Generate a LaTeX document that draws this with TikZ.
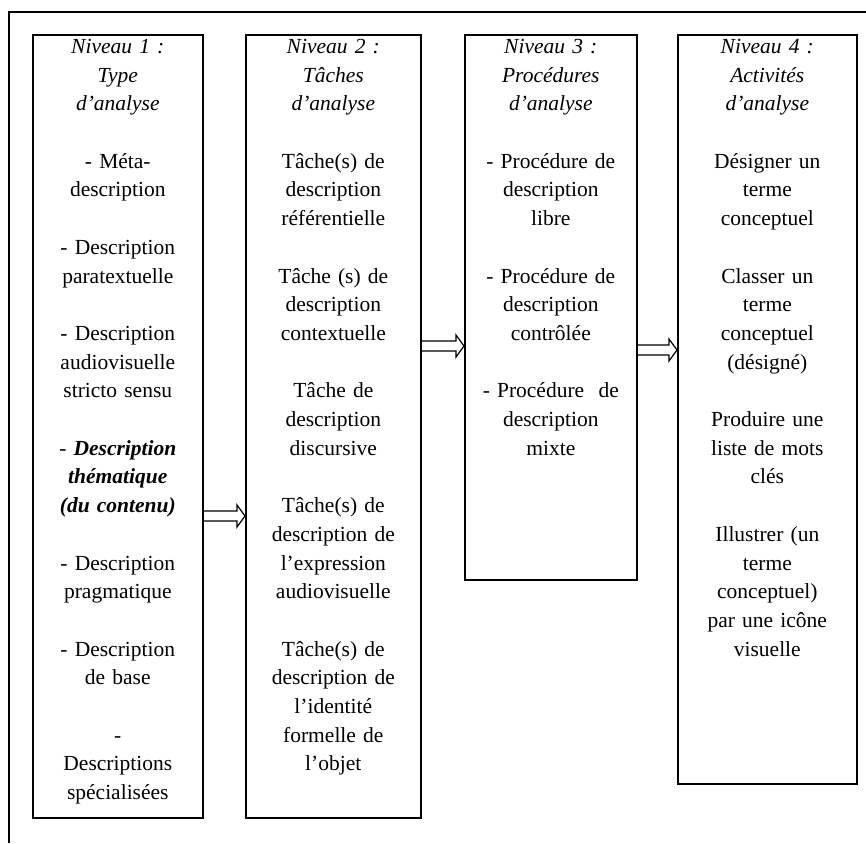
\documentclass[tikz,border=0pt]{standalone}
\usepackage{fontspec}
\setmainfont{Liberation Serif}
\usetikzlibrary{calc}
\newcommand\blk{\\[28.7pt]}
\tikzset{
  frame/.style={line width=1.2pt},
  levelbox/.style={draw, line width=1.6pt, rectangle, anchor=north west, inner sep=0pt},
  boxtext/.style={anchor=north, align=center, inner sep=0pt, text width=#1,
    font=\fontsize{21.5}{28.7}\selectfont},
  blockarrow/.style={line width=1.2pt, line join=miter}
}
\begin{document}
\begin{tikzpicture}[x=1pt,y=-1pt]
\useasboundingbox (0,0) rectangle (866,843);
% outer frame (only top and left edges visible)
\coordinate (fTL) at (9,12);
\coordinate (fTR) at (866,12);
\coordinate (fBL) at (9,843);
\draw[frame] (fTR) -- (fTL) -- (fBL);

% boxes
\node[levelbox, minimum width=170pt, minimum height=783pt] (b1) at (32,34) {};
\node[levelbox, minimum width=175pt, minimum height=783pt] (b2) at (245,34) {};
\node[levelbox, minimum width=172pt, minimum height=545pt] (b3) at (464,34) {};
\node[levelbox, minimum width=179pt, minimum height=749pt] (b4) at (677,34) {};

% texts
\node[boxtext=166pt] (t1) at ($(b1.north)+(0,5)$) {%
\textit{Niveau 1 :}\\ \textit{Type}\\ \textit{d’analyse}\blk
- Méta-\\ description\blk
- Description\\ paratextuelle\blk
- Description\\ audiovisuelle\\ stricto sensu\blk
- \textbf{\textit{Description}}\\ \textbf{\textit{thématique}}\\ \textbf{\textit{(du contenu)}}\blk
- Description\\ pragmatique\blk
- Description\\ de base\blk
-\\ Descriptions\\ spécialisées};

\node[boxtext=171pt] (t2) at ($(b2.north)+(0,5)$) {%
\textit{Niveau 2 :}\\ \textit{Tâches}\\ \textit{d’analyse}\blk
Tâche(s) de\\ description\\ référentielle\blk
Tâche (s) de\\ description\\ contextuelle\blk
Tâche de\\ description\\ discursive\blk
Tâche(s) de\\ description de\\ l’expression\\ audiovisuelle\blk
Tâche(s) de\\ description de\\ l’identité\\ formelle de\\ l’objet};

\node[boxtext=168pt] (t3) at ($(b3.north)+(0,5)$) {%
\textit{Niveau 3 :}\\ \textit{Procédures}\\ \textit{d’analyse}\blk
- Procédure de\\ description\\ libre\blk
- Procédure de\\ description\\ contrôlée\blk
- Procédure\ \ de\\ description\\ mixte};

\node[boxtext=175pt] (t4) at ($(b4.north)+(0,5)$) {%
\textit{Niveau 4 :}\\ \textit{Activités}\\ \textit{d’analyse}\blk
Désigner un\\ terme\\ conceptuel\blk
Classer un\\ terme\\ conceptuel\\ (désigné)\blk
Produire une\\ liste de mots\\ clés\blk
Illustrer (un\\ terme\\ conceptuel)\\ par une icône\\ visuelle};

% arrows
\coordinate (a1s) at (b1.east |- 0,516);
\coordinate (a1e) at (b2.west |- 0,516);
\coordinate (a2s) at (b2.east |- 0,346);
\coordinate (a2e) at (b3.west |- 0,346);
\coordinate (a3s) at (b3.east |- 0,350);
\coordinate (a3e) at (b4.west |- 0,350);
\foreach \s/\e in {a1s/a1e, a2s/a2e, a3s/a3e}{
  \draw[blockarrow] ($(\s)+(0,-5)$) -- ($(\e)+(-8,-5)$) -- ($(\e)+(-8,-11)$) -- (\e)
    -- ($(\e)+(-8,11)$) -- ($(\e)+(-8,5)$) -- ($(\s)+(0,5)$);
}
\end{tikzpicture}
\end{document}
